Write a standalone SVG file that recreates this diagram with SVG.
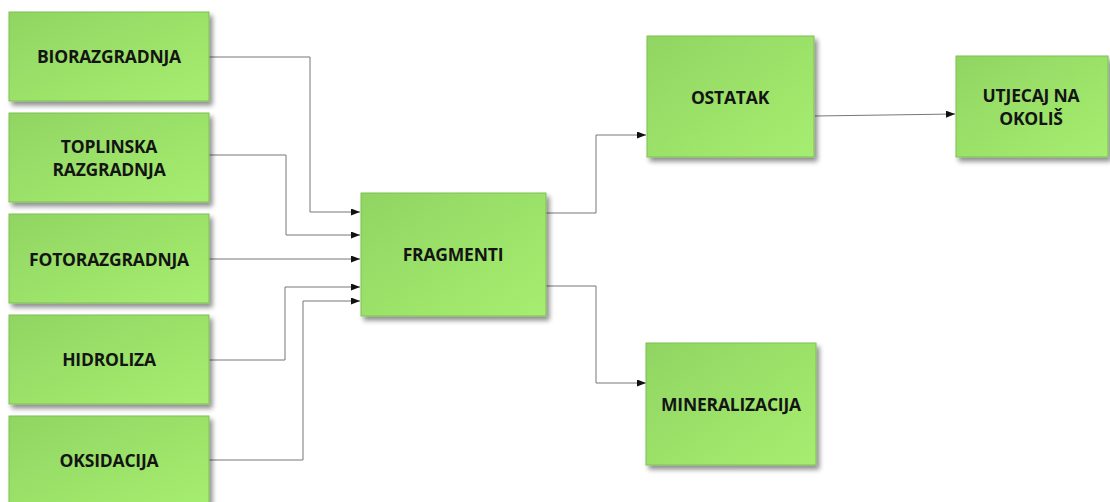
<svg xmlns="http://www.w3.org/2000/svg" width="1110" height="502" viewBox="0 0 1110 502">
<defs>
<linearGradient id="g" x1="0" y1="0" x2="1" y2="1">
<stop offset="0" stop-color="#90d562"/>
<stop offset="1" stop-color="#a6ee70"/>
</linearGradient>
<filter id="sh" x="-10%" y="-10%" width="130%" height="130%">
<feGaussianBlur in="SourceAlpha" stdDeviation="2.5"/>
<feOffset dx="3" dy="4" result="b"/>
<feComponentTransfer><feFuncA type="linear" slope="0.45"/></feComponentTransfer>
<feMerge><feMergeNode/><feMergeNode in="SourceGraphic"/></feMerge>
</filter>
<marker id="ah" markerWidth="9" markerHeight="7" refX="9" refY="3.5" orient="auto" markerUnits="userSpaceOnUse">
<path d="M0,0 L9,3.5 L0,7 Z" fill="#111"/>
</marker>
</defs>
<style>
.box{fill:url(#g);stroke:#7fbf52;stroke-width:1;filter:url(#sh)}
.t{font-family:"Open Sans","Liberation Sans",sans-serif;font-weight:bold;font-size:17.5px;fill:#141414;text-anchor:middle;letter-spacing:-0.2px}
.c{fill:none;stroke:#777;stroke-width:1;marker-end:url(#ah)}
</style>
<rect width="1110" height="502" fill="#fff"/>
<g id="connectors">
<path class="c" d="M209,57 H310 V212 H360"/>
<path class="c" d="M209,155 H286 V235 H360"/>
<path class="c" d="M209,259 H360"/>
<path class="c" d="M209,360 H285 V287 H360"/>
<path class="c" d="M209,460 H303 V301 H360"/>
<path class="c" d="M546,213 H596 V135 H646"/>
<path class="c" d="M546,286 H596 V383 H646"/>
<path class="c" d="M815,116 L955,114"/>
</g>
<g id="biorazgradnja"><rect class="box" x="9" y="12" width="200" height="89"/><text class="t" x="109" y="63">BIORAZGRADNJA</text></g>
<g id="toplinska"><rect class="box" x="9" y="113" width="200" height="89"/><text class="t" x="109" y="153">TOPLINSKA</text><text class="t" x="109" y="176">RAZGRADNJA</text></g>
<g id="fotorazgradnja"><rect class="box" x="9" y="214" width="200" height="89"/><text class="t" x="109" y="266">FOTORAZGRADNJA</text></g>
<g id="hidroliza"><rect class="box" x="9" y="315" width="200" height="89"/><text class="t" x="109" y="366">HIDROLIZA</text></g>
<g id="oksidacija"><rect class="box" x="9" y="416" width="200" height="92"/><text class="t" x="109" y="467">OKSIDACIJA</text></g>
<g id="fragmenti"><rect class="box" x="361" y="193" width="185" height="123"/><text class="t" x="453" y="261">FRAGMENTI</text></g>
<g id="ostatak"><rect class="box" x="647" y="36" width="167" height="121"/><text class="t" x="730" y="104">OSTATAK</text></g>
<g id="utjecaj"><rect class="box" x="956" y="56" width="152" height="101"/><text class="t" x="1031" y="102">UTJECAJ NA</text><text class="t" x="1031" y="125">OKOLIŠ</text></g>
<g id="mineralizacija"><rect class="box" x="646" y="343" width="170" height="122"/><text class="t" x="731" y="411">MINERALIZACIJA</text></g>
</svg>
